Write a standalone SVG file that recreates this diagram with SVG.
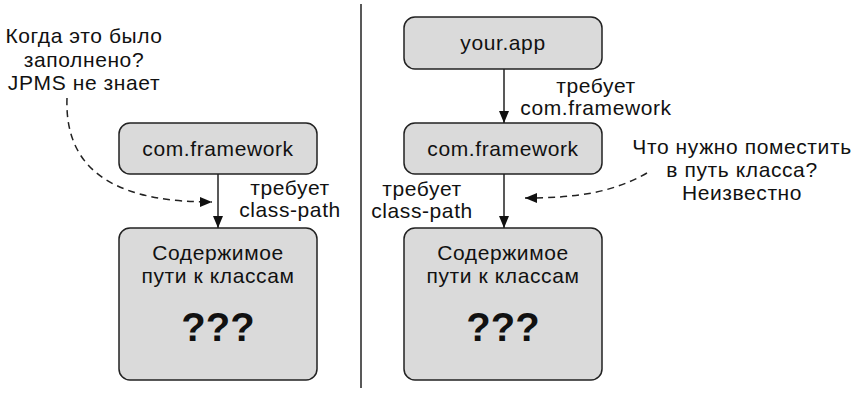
<svg xmlns="http://www.w3.org/2000/svg" width="854" height="393" viewBox="0 0 854 393">
<defs>
<style>
.box{fill:#dadada;stroke:#222;stroke-width:1.5}
.t{font-family:"Liberation Sans",Arial,sans-serif;font-size:21px;letter-spacing:0.6px;fill:#111;text-anchor:middle}
.q{font-family:"Liberation Sans",Arial,sans-serif;font-size:40px;font-weight:bold;fill:#111;text-anchor:middle}
.ln{fill:none;stroke:#222;stroke-width:1.5}
.dash{fill:none;stroke:#222;stroke-width:1.5;stroke-dasharray:7,5}
</style>
<marker id="ah" viewBox="0 0 12 10" refX="12" refY="5" markerWidth="12" markerHeight="10" markerUnits="userSpaceOnUse" orient="auto">
<path d="M0,0 L12,5 L0,10 Z" fill="#111"/>
</marker>
</defs>
<rect width="854" height="393" fill="#fff"/>
<line x1="361" y1="4" x2="361" y2="388" stroke="#222" stroke-width="1.5"/>

<g id="left-note">
<text class="t" x="84" y="43">Когда это было</text>
<text class="t" x="84" y="67">заполнено?</text>
<text class="t" x="84" y="90">JPMS не знает</text>
</g>
<g id="left-framework">
<rect class="box" x="119" y="123" width="198" height="51" rx="11"/>
<text class="t" x="218" y="156">com.framework</text>
</g>
<g id="left-classpath">
<rect class="box" x="119" y="228" width="198" height="152" rx="11"/>
<text class="t" x="218" y="260">Содержимое</text>
<text class="t" x="218" y="283">пути к классам</text>
<text class="q" x="218" y="341">???</text>
</g>

<g id="right-app">
<rect class="box" x="404" y="17" width="198" height="52" rx="11"/>
<text class="t" x="503" y="50">your.app</text>
</g>
<g id="right-framework">
<rect class="box" x="404" y="123" width="198" height="51" rx="11"/>
<text class="t" x="503" y="156">com.framework</text>
</g>
<g id="right-classpath">
<rect class="box" x="404" y="228" width="198" height="152" rx="11"/>
<text class="t" x="503" y="260">Содержимое</text>
<text class="t" x="503" y="283">пути к классам</text>
<text class="q" x="503" y="341">???</text>
</g>
<g id="right-note">
<text class="t" x="742" y="154">Что нужно поместить</text>
<text class="t" x="742" y="177">в путь класса?</text>
<text class="t" x="742" y="200">Неизвестно</text>
</g>

<g id="connectors">
<line class="ln" x1="218" y1="174" x2="218" y2="228" marker-end="url(#ah)"/>
<text class="t" x="290" y="195">требует</text>
<text class="t" x="290" y="217">class-path</text>
<path class="dash" d="M67,98 C64,180 130,202 212,202" marker-end="url(#ah)"/>

<line class="ln" x1="504" y1="69" x2="504" y2="123" marker-end="url(#ah)"/>
<text class="t" x="596" y="93">требует</text>
<text class="t" x="596" y="115">com.framework</text>
<line class="ln" x1="504" y1="174" x2="504" y2="228" marker-end="url(#ah)"/>
<text class="t" x="422" y="196">требует</text>
<text class="t" x="422" y="218">class-path</text>
<path class="dash" d="M647,173 C612,193 575,198 525,198" marker-end="url(#ah)"/>
</g>
</svg>
